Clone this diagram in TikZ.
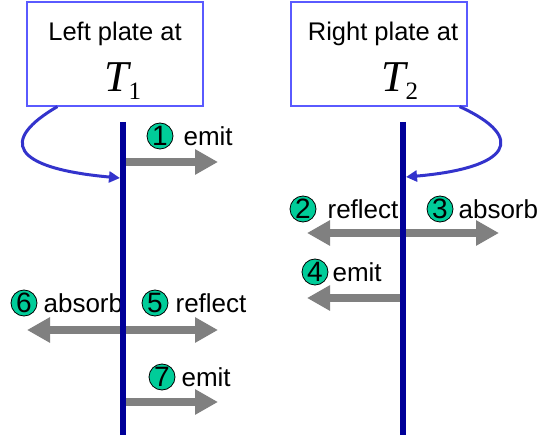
\documentclass[tikz,border=0pt]{standalone}
\usepackage{fontspec}
\setmainfont{Liberation Sans}
\newfontfamily\timesfont{Liberation Serif}
\usetikzlibrary{arrows.meta, positioning}

\definecolor{platebl}{RGB}{0,0,153}
\definecolor{boxbl}{RGB}{90,90,255}
\definecolor{linkbl}{RGB}{51,51,204}
\definecolor{raygr}{RGB}{128,128,128}
\definecolor{numgr}{RGB}{0,204,153}

\tikzset{
  platebox/.style={draw=boxbl, line width=1.2pt, minimum width=176pt, minimum height=104pt, inner sep=0},
  title/.style={inner sep=0, font=\fontsize{25.5}{30}\selectfont},
  temp/.style={inner sep=0, font=\timesfont\fontsize{44}{44}\selectfont},
  plate/.style={draw=platebl, line width=6pt},
  link/.style={draw=linkbl, line width=3pt, -{Triangle[length=11pt,width=11pt]}},
  ray/.style={draw=raygr, line width=8pt, -{Triangle[length=23pt,width=24pt]}},
  num/.style={circle, draw=black, line width=0.8pt, fill=numgr, minimum size=26pt, inner sep=0, font=\fontsize{28}{28}\selectfont},
  lbl/.style={inner sep=0, font=\fontsize{26}{30}\selectfont},
}

\begin{document}
\begin{tikzpicture}[x=1pt, y=-1pt]
  \useasboundingbox (0,0) rectangle (545,435);

  % plates at two temperatures
  \node[platebox] (lbox) at (115,54) {};
  \node[platebox] (rbox) at (379,54) {};
  \node[title, anchor=base] (ltitle) at (115,41) {Left plate at};
  \node[title, anchor=base] (rtitle) at (383,41) {Right plate at};
  \node[temp, anchor=base west] (lT) at (104,92) {\itshape T\raisebox{-8pt}{\fontsize{25}{25}\selectfont\upshape 1}};
  \node[temp, anchor=base west] (rT) at (381,92) {\itshape T\raisebox{-8pt}{\fontsize{25}{25}\selectfont\upshape 2}};

  \coordinate (ltop) at (123,122);
  \coordinate (lbot) at (123,435);
  \coordinate (rtop) at (403,122);
  \coordinate (rbot) at (403,435);
  \coordinate (lhit) at (120,178);
  \coordinate (rhit) at (406,177);

  \draw[link] ([xshift=31pt]lbox.south west) .. controls (0,140) and (10,168) .. (lhit);
  \draw[link] ([xshift=-8pt]rbox.south east) .. controls (528,138) and (510,168) .. (rhit);

  % rays leaving the plates
  \coordinate (l1) at (126,162);
  \coordinate (e1) at (218,162);
  \coordinate (r23) at (403,233);
  \coordinate (e2) at (307,233);
  \coordinate (e3) at (499,233);
  \coordinate (r4) at (403,298);
  \coordinate (e4) at (307,298);
  \coordinate (l56) at (123,330);
  \coordinate (e5) at (218,330);
  \coordinate (e6) at (27,330);
  \coordinate (l7) at (126,402);
  \coordinate (e7) at (218,402);

  \draw[ray] (l1) -- (e1);
  \draw[ray] (r23) -- (e2);
  \draw[ray] (r23) -- (e3);
  \draw[ray] (r4) -- (e4);
  \draw[ray] (l56) -- (e5);
  \draw[ray] (l56) -- (e6);
  \draw[ray] (l7) -- (e7);

  % numbered labels
  \node[num] (n1) at (160,136) {1};
  \node[lbl, right=10pt of n1] (t1) {emit};
  \node[num] (n2) at (303,209) {2};
  \node[lbl, right=11pt of n2] (t2) {reflect};
  \node[num] (n3) at (440,209) {3};
  \node[lbl, right=5pt of n3] (t3) {absorb};
  \node[num] (n4) at (315,272) {4};
  \node[lbl, right=4pt of n4] (t4) {emit};
  \node[num] (n5) at (155,303) {5};
  \node[lbl, right=7pt of n5] (t5) {reflect};
  \node[num] (n6) at (24,303) {6};
  \node[lbl, right=6pt of n6] (t6) {absorb};
  \node[num] (n7) at (162,377) {7};
  \node[lbl, right=6pt of n7] (t7) {emit};

  \draw[plate] (ltop) -- (lbot);
  \draw[plate] (rtop) -- (rbot);
\end{tikzpicture}
\end{document}
